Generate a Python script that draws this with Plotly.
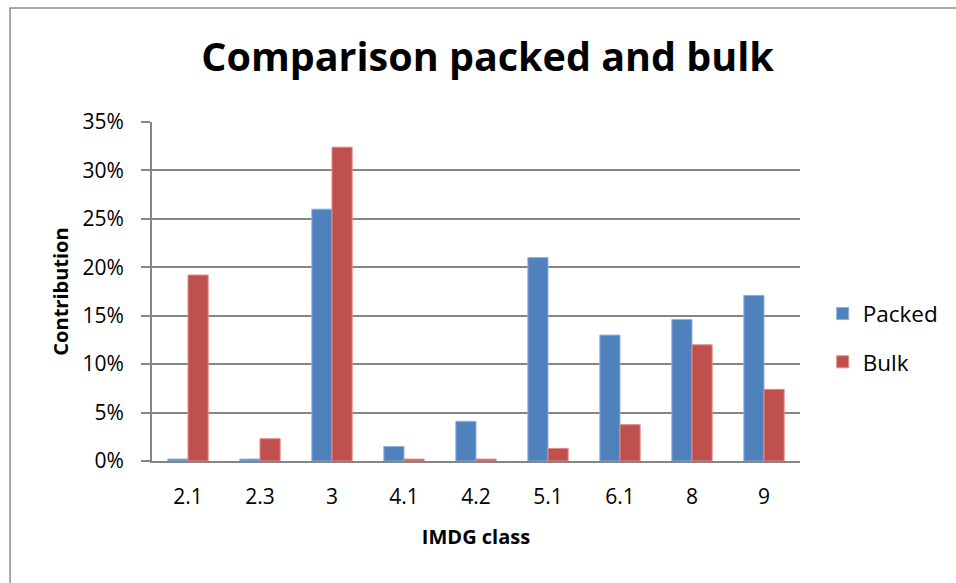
import plotly.graph_objects as go

# IMDG classes and each category's share of the total
imdg_classes = ["2.1", "2.3", "3", "4.1", "4.2", "5.1", "6.1", "8", "9"]
packed = [0.002, 0.002, 0.260, 0.015, 0.041, 0.210, 0.130, 0.146, 0.171]
bulk = [0.192, 0.023, 0.324, 0.002, 0.002, 0.013, 0.0375, 0.120, 0.074]
y_ticks = [0, 0.05, 0.10, 0.15, 0.20, 0.25, 0.30, 0.35]

FONT = "Open Sans"

fig = go.Figure()
fig.add_trace(go.Bar(
    x=imdg_classes, y=packed, name="Packed", legendgroup="p",
    marker=dict(color="#4F81BD", line=dict(color="#8EB0DC", width=1)),
))
fig.add_trace(go.Bar(
    x=imdg_classes, y=bulk, name="Bulk", legendgroup="b",
    marker=dict(color="#C0504D", line=dict(color="#DE8E8C", width=1)),
))

# outer chart frame
fig.add_shape(type="rect", xref="paper", yref="paper",
              x0=-0.219, x1=1.4, y0=-0.6, y1=1.336,
              line=dict(color="#8C8C8C", width=1.5), fillcolor="rgba(0,0,0,0)", layer="below")

fig.update_layout(
    width=956, height=583,
    margin=dict(l=152, r=156, t=122, b=122),
    paper_bgcolor="white", plot_bgcolor="white",
    font=dict(family=FONT, color="black"),
    title=dict(text="<b>Comparison packed and bulk</b>", x=0.51, xanchor="center",
               y=1 - 57 / 583, yanchor="middle", font=dict(size=39.5, family=FONT)),
    barmode="group", bargap=0.44, bargroupgap=0.0,
    showlegend=True,
    legend=dict(x=1.035, y=0.363, xanchor="left", yanchor="middle",
                font=dict(size=22.5, family=FONT), tracegroupgap=16,
                traceorder="grouped", itemwidth=30),
    xaxis=dict(
        title=dict(text="<b>IMDG class</b>", font=dict(size=20), standoff=21),
        tickfont=dict(size=21), showline=True, linecolor="#868686", linewidth=2,
        ticks="", showgrid=False, type="category", ticklabelstandoff=16,
    ),
    yaxis=dict(
        title=dict(text="<b>Contribution</b>", font=dict(size=20), standoff=8),
        tickvals=y_ticks, ticktext=[f"{int(round(v*100))}%" for v in y_ticks],
        range=[0, 0.35], tickfont=dict(size=21), ticklabelstandoff=13,
        showline=True, linecolor="#868686", linewidth=2,
        ticks="outside", ticklen=9, tickcolor="#868686", tickwidth=1.5,
        showgrid=True, gridcolor="#868686", gridwidth=1.5, zeroline=False,
    ),
)

fig.write_html("out.html")
